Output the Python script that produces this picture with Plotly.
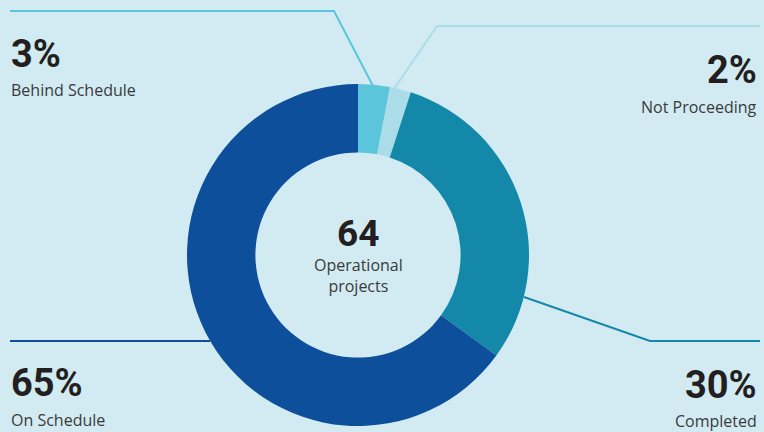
import plotly.graph_objects as go

W, H = 764, 432

labels = ["Behind Schedule", "Not Proceeding", "Completed", "On Schedule"]
values = [3, 2, 30, 65]
colors = ["#5BC6DB", "#ABDDE9", "#1388A8", "#0D4F9B"]
total_projects = 64
center_label = "Operational<br>projects"

BG = "#D2EBF2"

cx, cy, r = 358, 255, 171


def px(x):
    return x / W


def py(y):
    return 1 - y / H


fig = go.Figure()
fig.add_trace(go.Pie(
    labels=labels, values=values, hole=0.6, sort=False, direction="clockwise",
    rotation=0, textinfo="none", hoverinfo="label+percent",
    marker=dict(colors=colors, line=dict(width=0)),
    domain=dict(x=[px(cx - r), px(cx + r)], y=[py(cy + r), py(cy - r)]),
    showlegend=False,
))

# leader lines (pixel paths)
leaders = [
    ([(373, 86), (334, 11), (10, 11)], colors[0]),
    ([(394, 89), (437, 26), (760, 26)], colors[1]),
    ([(524, 297), (650, 341), (760, 341)], colors[2]),
    ([(210, 341), (10, 341)], colors[3]),
]
for pts, c in leaders:
    path = "M " + " L ".join(f"{px(x)},{py(y)}" for x, y in pts)
    fig.add_shape(type="path", path=path, xref="paper", yref="paper",
                  line=dict(color=c, width=2))

NUMFONT = "Roboto"
LBLFONT = "Open Sans"
DARK = "#231F20"
GREY = "#3A3A3A"

items = [
    (0, 9, 54, 90, "left"),
    (1, 759, 70, 107, "right"),
    (2, 759, 385, 421, "right"),
    (3, 9, 383, 420, "left"),
]
for i, x, yb, ys, al in items:
    fig.add_annotation(x=px(x), y=py(yb), xref="paper", yref="paper",
                       text=f"<b>{values[i]}%</b>", showarrow=False,
                       xanchor=al, yanchor="middle",
                       font=dict(family=NUMFONT, size=38, color=DARK))
    fig.add_annotation(x=px(x), y=py(ys), xref="paper", yref="paper",
                       text=labels[i], showarrow=False,
                       xanchor=al, yanchor="middle",
                       font=dict(family=LBLFONT, size=16, color=GREY))

fig.add_annotation(x=px(cx), y=py(234), xref="paper", yref="paper",
                   text=f"<b>{total_projects}</b>", showarrow=False,
                   xanchor="center", yanchor="middle",
                   font=dict(family=NUMFONT, size=37, color=DARK))
fig.add_annotation(x=px(cx), y=py(275), xref="paper", yref="paper",
                   text=center_label, showarrow=False,
                   xanchor="center", yanchor="middle",
                   font=dict(family=LBLFONT, size=16, color=GREY))

fig.update_layout(width=W, height=H, margin=dict(l=0, r=0, t=0, b=0),
                  paper_bgcolor=BG, plot_bgcolor=BG)

fig.write_html("out.html", config={"displayModeBar": False},
               post_script="document.body.style.margin='0';"
                           "document.body.style.background='" + BG + "';")
